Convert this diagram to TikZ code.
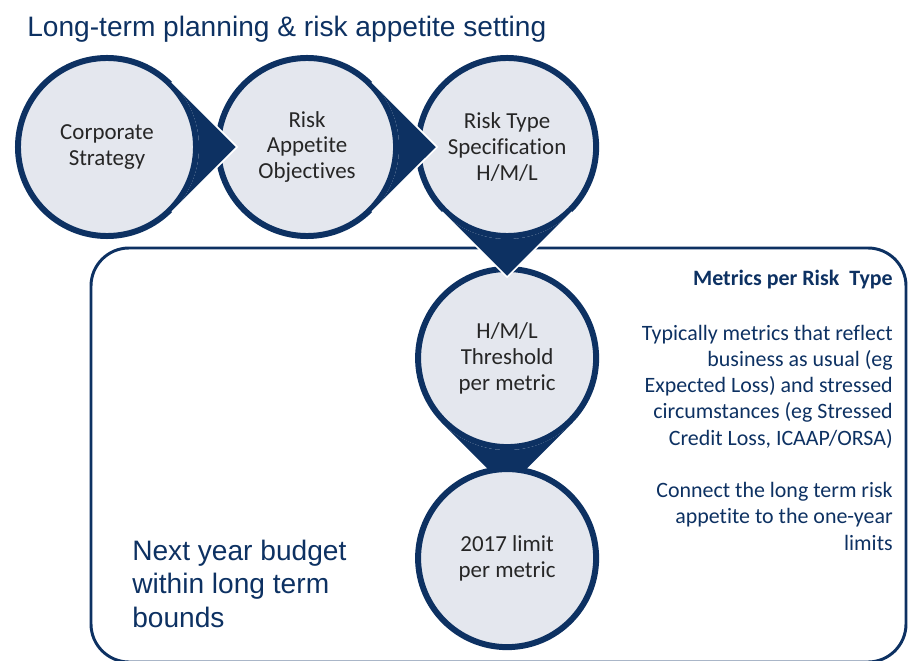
\documentclass[tikz,border=0pt]{standalone}
\usepackage{fontspec}
\setmainfont[Ligatures=NoCommon]{Carlito}
\newfontfamily\headfont{Liberation Sans}
\usetikzlibrary{positioning}
\definecolor{navy}{HTML}{0D3162}
\definecolor{stagegrey}{HTML}{E4E7EE}
\definecolor{inkgrey}{HTML}{262626}
\tikzstyle{stage}=[circle, draw=navy, line width=4.25pt, fill=stagegrey,
minimum size=4.45cm, inner sep=0pt, align=center, text=inkgrey,
font=\fontsize{16.3}{18.4}\selectfont]
\tikzstyle{tip}=[fill=navy]
\tikzstyle{edge}=[draw=white, line width=1.2pt]
\tikzstyle{note}=[text=navy, align=right, inner sep=0pt,
font=\fontsize{15.6}{18.5}\selectfont]
\tikzstyle{heading}=[text=navy, align=left, inner sep=0pt,
font=\headfont\fontsize{20}{23.8}\selectfont]

\begin{document}
\begin{tikzpicture}[x=0.025cm, y=0.025cm, node distance=5cm, on grid]
  \useasboundingbox (0,0) rectangle (908,660);

  % frame of the one-year part
  \draw[navy, line width=2.1pt, rounded corners=0.95cm] (91,-2) rectangle (906,412);

  \node[stage] (c1) at (107,513) {Corporate\\Strategy};
  \node[stage, right=of c1] (c2) {Risk\\Appetite\\Objectives};
  \node[stage, right=of c2] (c3) {Risk Type\\Specification\\H/M/L};
  \node[stage, below=5.275cm of c3] (c4) {H/M/L\\Threshold\\per metric};
  % this tip goes under the last circle
  \fill[tip] (c4.-135) arc[start angle=-135, end angle=-45, radius=2.3cm] -- ++(-135:2.3cm) -- cycle;
  \node[stage, below=of c4] (c5) {2017 limit\\per metric};

  % tips of the teardrops
  \fill[tip] (c1.-45) arc[start angle=-45, end angle=45, radius=2.3cm] -- ++(-45:2.3cm) -- cycle;
  \draw[edge] (c1.45) -- ++(-45:2.3cm) -- (c1.-45);
  \fill[tip] (c2.-45) arc[start angle=-45, end angle=45, radius=2.3cm] -- ++(-45:2.3cm) -- cycle;
  \draw[edge] (c2.45) -- ++(-45:2.3cm) -- (c2.-45);
  \fill[tip] (c3.-135) arc[start angle=-135, end angle=-45, radius=2.3cm] -- ++(-135:2.3cm) -- cycle;
  \draw[edge] (c3.-45) -- ++(-135:2.3cm) -- (c3.-135);

  % texts (base = last line)
  \node[heading, anchor=base west] (title) at (27,623) {Long-term planning \& risk appetite setting};
  \node[heading, anchor=base west] (budget) at (132,33) {Next year budget\\within long term\\bounds};

  \node[note, anchor=base east, font=\fontsize{15.6}{18.5}\selectfont\bfseries] (metrics) at (893,375) {Metrics per Risk~ Type};
  \node[note, anchor=base east] (typical) at (893,215) {Typically metrics that reflect\\business as usual (eg\\Expected Loss) and stressed\\circumstances (eg Stressed\\Credit Loss, ICAAP/ORSA)};
  \node[note, anchor=base east] (connect) at (893,110) {Connect the long term risk\\appetite to the one-year\\limits};
\end{tikzpicture}
\end{document}
